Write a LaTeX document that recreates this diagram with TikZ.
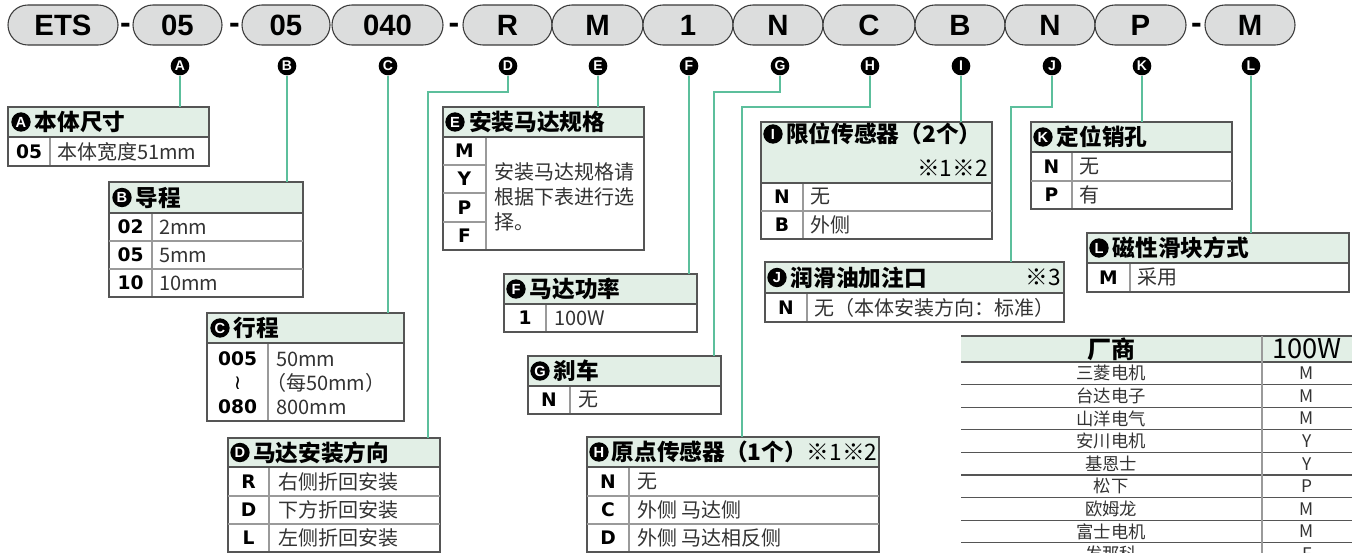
\documentclass[tikz,border=0pt]{standalone}
\usepackage{fontspec}
\setmainfont{Noto Sans CJK SC}
\newfontfamily\pillf{Liberation Sans}
\newfontfamily\codef{DejaVu Sans}
\definecolor{pillfill}{HTML}{DCDDDD}
\definecolor{pillline}{HTML}{3A3A3A}
\definecolor{hdrc}{HTML}{E2EFE6}
\definecolor{framec}{HTML}{555555}
\definecolor{rowc}{HTML}{9A9A9A}
\definecolor{leadc}{HTML}{5CBF9C}
\definecolor{txtc}{HTML}{333333}
\newcommand\tbox[6]{%
  \fill[hdrc] (#1,#2) rectangle (#3,#4);
  \draw[rowl] (#6,#4) -- (#6,#5);
  \draw[boxframe] (#1,#4) -- (#3,#4);
  \draw[boxframe] (#1,#2) rectangle (#3,#5);
}
\newcommand\nt[1]{{\mdseries #1}}
\begin{document}
\begin{tikzpicture}[x=0.75pt,y=-0.75pt,
  pill/.style={draw=pillline, fill=pillfill, line width=0.8pt, rounded corners=14.9pt,
     minimum height=30pt, inner sep=0pt, font=\pillf\bfseries\fontsize{22}{22}\selectfont},
  dashsep/.style={inner sep=0pt, anchor=base, font=\pillf\bfseries\fontsize{24}{24}\selectfont},
  lbl/.style={circle, fill=black, minimum size=14pt, inner sep=0pt, text=white,
     font=\pillf\bfseries\fontsize{10.5}{10.5}\selectfont},
  hc/.style={circle, fill=black, minimum size=14.5pt, inner sep=0pt, text=white,
     font=\pillf\bfseries\fontsize{11}{11}\selectfont},
  ht/.style={anchor=west, inner sep=0pt, font=\bfseries\fontsize{17}{19}\selectfont},
  cd/.style={inner sep=0pt, font=\codef\bfseries\fontsize{14}{14}\selectfont},
  rt/.style={anchor=west, inner sep=0pt, text=txtc, font=\fontsize{15}{16}\selectfont},
  leadline/.style={draw=leadc, line width=1pt},
  boxframe/.style={draw=framec, line width=1.2pt},
  rowl/.style={draw=rowc, line width=0.8pt},
  tabrow/.style={draw=framec, line width=0.8pt},
  th/.style={inner sep=0pt, font=\bfseries\fontsize{18}{18}\selectfont},
  thn/.style={inner sep=0pt, font=\fontsize{20.5}{20.5}\selectfont},
  td/.style={inner sep=0pt, text=txtc, font=\fontsize{13}{13}\selectfont}
]
\useasboundingbox (0,0) rectangle (1357,553);
\clip (0,0) rectangle (1357,553);
\fill[white] (0,0) rectangle (1357,553);

% ---- model code pills ----
\node[pill, minimum width=82.5pt] (p1) at (63,25) {ETS};
\node[dashsep] (d1) at (125.5,33) {-};
\node[pill, minimum width=66.75pt] (p2) at (177.5,25) {05};
\node[dashsep] (d2) at (234.5,33) {-};
\node[pill, minimum width=66pt] (p3) at (286,25) {05};
\node[pill, minimum width=83.25pt] (p4) at (387.5,25) {040};
\node[dashsep] (d3) at (454,33) {-};
\node[pill, minimum width=66.75pt] (p5) at (507.5,25) {R};
\node[pill, minimum width=68.25pt] (p6) at (597.5,25) {M};
\node[pill, minimum width=67.5pt] (p7) at (688,25) {1};
\node[pill, minimum width=67.5pt] (p8) at (778,25) {N};
\node[pill, minimum width=69pt] (p9) at (869,25) {C};
\node[pill, minimum width=67.5pt] (p10) at (960,25) {B};
\node[pill, minimum width=67.5pt] (p11) at (1050,25) {N};
\node[pill, minimum width=68.25pt] (p12) at (1140.5,25) {P};
\node[dashsep] (d4) at (1196.5,33) {-};
\node[pill, minimum width=67.5pt] (p13) at (1250,25) {M};

% ---- circled letters ----
\node[lbl] (cA) at (180,66) {A};
\node[lbl] (cB) at (287,66) {B};
\node[lbl] (cC) at (388,66) {C};
\node[lbl] (cD) at (508,66) {D};
\node[lbl] (cE) at (598,66) {E};
\node[lbl] (cF) at (689,66) {F};
\node[lbl] (cG) at (780,66) {G};
\node[lbl] (cH) at (870,66) {H};
\node[lbl] (cI) at (961,66) {I};
\node[lbl] (cJ) at (1052,66) {J};
\node[lbl] (cK) at (1142,66) {K};
\node[lbl] (cL) at (1251,66) {L};

% ---- box A ----
\tbox{8}{107}{209}{137}{166}{50}
\node[hc] (hA) at (21,122) {A};
\node[ht] (hAt) at (34.5,122) {本体尺寸};
\node[cd] (a1) at (29,151.5) {05};
\node[rt] (a1t) at (57,151.5) {本体宽度51mm};

% ---- box B ----
\tbox{109}{182}{303}{213}{297}{152}
\draw[rowl] (109,241) -- (303,241);
\draw[rowl] (109,269) -- (303,269);
\node[hc] (hB) at (122,197.5) {B};
\node[ht] (hBt) at (135.5,197.5) {导程};
\node[cd] (b1) at (130.5,227) {02};
\node[cd] (b2) at (130.5,255) {05};
\node[cd] (b3) at (130.5,283) {10};
\node[rt] (b1t) at (159,227) {2mm};
\node[rt] (b2t) at (159,255) {5mm};
\node[rt] (b3t) at (159,283) {10mm};

% ---- box C ----
\tbox{207}{313}{404}{343}{421}{268}
\node[hc] (hC) at (220,328) {C};
\node[ht] (hCt) at (233.5,328) {行程};
\node[cd] (c1) at (237.5,359) {005};
\node[inner sep=0pt, font=\codef\fontsize{15}{15}\selectfont] (c2) at (237.5,383) {≀};
\node[cd] (c3) at (237.5,407) {080};
\node[rt] (c1t) at (276,359) {50mm};
\node[rt] (c2t) at (266,383) {（每50mm）};
\node[rt] (c3t) at (276,407) {800mm};

% ---- box D ----
\tbox{228}{438}{440}{467}{552}{269}
\draw[rowl] (228,496) -- (440,496);
\draw[rowl] (228,524) -- (440,524);
\node[hc] (hD) at (240,452.5) {D};
\node[ht] (hDt) at (253,452.5) {马达安装方向};
\node[cd] (d1c) at (248.5,481.5) {R};
\node[cd] (d2c) at (248.5,510) {D};
\node[cd] (d3c) at (248.5,538) {L};
\node[rt] (d1t) at (278,481.5) {右侧折回安装};
\node[rt] (d2t) at (278,510) {下方折回安装};
\node[rt] (d3t) at (278,538) {左侧折回安装};

% ---- box E ----
\tbox{443}{107}{644}{137}{250}{486}
\draw[rowl] (443,165) -- (486,165);
\draw[rowl] (443,193) -- (486,193);
\draw[rowl] (443,222) -- (486,222);
\node[hc] (hE) at (455,122) {E};
\node[ht] (hEt) at (469,122) {安装马达规格};
\node[cd] (e1) at (464.5,151) {M};
\node[cd] (e2) at (464.5,179) {Y};
\node[cd] (e3) at (464.5,207.5) {P};
\node[cd] (e4) at (464.5,236) {F};
\node[anchor=west, inner sep=0pt, text=txtc, align=left,
      font=\fontsize{15}{18.5}\selectfont] (et) at (494,197) {安装马达规格请\\根据下表进行选\\择。};

% ---- box F ----
\tbox{504}{274}{697}{304}{332}{546}
\node[hc] (hF) at (516,289) {F};
\node[ht] (hFt) at (529.5,289) {马达功率};
\node[cd] (f1) at (525,318) {1};
\node[rt] (f1t) at (554,318) {100W};

% ---- box G ----
\tbox{528}{356}{721}{386}{414}{570}
\node[hc] (hG) at (540,371) {G};
\node[ht] (hGt) at (553.5,371) {刹车};
\node[cd] (g1) at (549,400) {N};
\node[rt] (g1t) at (578,400) {无};

% ---- box H ----
\tbox{587}{437}{879}{467}{552}{629}
\draw[rowl] (587,496) -- (879,496);
\draw[rowl] (587,524) -- (879,524);
\node[hc] (hH) at (599,452) {H};
\node[ht] (hHt) at (611.5,452) {原点传感器（1个）\nt{※1※2}};
\node[cd] (h1) at (608,481.5) {N};
\node[cd] (h2) at (608,510) {C};
\node[cd] (h3) at (608,538) {D};
\node[rt] (h1t) at (637,481.5) {无};
\node[rt] (h2t) at (637,510) {外侧 马达侧};
\node[rt] (h3t) at (637,538) {外侧 马达相反侧};

% ---- box I ----
\tbox{761}{122}{992}{183}{239}{803}
\draw[rowl] (761,211) -- (992,211);
\node[hc] (hI) at (773,134) {I};
\node[ht] (hIt) at (786,134) {限位传感器（2个）};
\node[ht, anchor=east] (hIn) at (988,168) {\nt{※1※2}};
\node[cd] (i1) at (782,197) {N};
\node[cd] (i2) at (782,225) {B};
\node[rt] (i1t) at (810,197) {无};
\node[rt] (i2t) at (810,225) {外侧};

% ---- box J ----
\tbox{765}{262}{1064}{293}{322}{807}
\node[hc] (hJ) at (777,277.5) {J};
\node[ht] (hJt) at (790.5,277.5) {润滑油加注口};
\node[ht, anchor=east] (hJn) at (1061,277.5) {\nt{※3}};
\node[cd] (j1) at (786,307.5) {N};
\node[rt] (j1t) at (814,307.5) {无（本体安装方向：标准）};

% ---- box K ----
\tbox{1031}{122}{1232}{152}{209}{1072}
\draw[rowl] (1031,181) -- (1232,181);
\node[hc] (hK) at (1043,137) {K};
\node[ht] (hKt) at (1056.5,137) {定位销孔};
\node[cd] (k1) at (1051.5,166.5) {N};
\node[cd] (k2) at (1051.5,195) {P};
\node[rt] (k1t) at (1079,166.5) {无};
\node[rt] (k2t) at (1079,195) {有};

% ---- box L ----
\tbox{1087}{233}{1349}{263}{292}{1130}
\node[hc] (hL) at (1099,248) {L};
\node[ht] (hLt) at (1112.5,248) {磁性滑块方式};
\node[cd] (l1) at (1108.5,277.5) {M};
\node[rt] (l1t) at (1137,277.5) {采用};

% ---- connectors ----
\coordinate (tA) at (180,107);
\coordinate (tB) at (287,182);
\coordinate (tC) at (388,313);
\coordinate (kD) at (428,92);
\coordinate (tD) at (428,438);
\coordinate (tE) at (598,107);
\coordinate (tF) at (689,274);
\coordinate (kG) at (714,92);
\coordinate (tG) at (714,356);
\coordinate (kH) at (742,107);
\coordinate (tH) at (742,437);
\coordinate (tI) at (961,122);
\coordinate (kJ) at (1011,107);
\coordinate (tJ) at (1011,262);
\coordinate (tK) at (1142,122);
\coordinate (tL) at (1251,233);
\draw[leadline] (cA.south) -- (tA);
\draw[leadline] (cB.south) -- (tB);
\draw[leadline] (cC.south) -- (tC);
\draw[leadline] (cD.south) |- (kD) -- (tD);
\draw[leadline] (cE.south) -- (tE);
\draw[leadline] (cF.south) -- (tF);
\draw[leadline] (cG.south) |- (kG) -- (tG);
\draw[leadline] (cH.south) |- (kH) -- (tH);
\draw[leadline] (cI.south) -- (tI);
\draw[leadline] (cJ.south) |- (kJ) -- (tJ);
\draw[leadline] (cK.south) -- (tK);
\draw[leadline] (cL.south) -- (tL);

% ---- motor table ----
\fill[hdrc] (961,336) rectangle (1352,362);
\draw[tabrow] (961,336) -- (1352,336);
\draw[boxframe] (961,362) -- (1352,362);
\foreach \i in {1,...,8} \draw[tabrow] (961,{362+22.6*\i}) -- (1352,{362+22.6*\i});
\draw[rowl] (1262,336) -- (1262,553);
\node[th] (th1) at (1111,349) {厂商};
\node[thn] (th2) at (1307,349) {100W};
\foreach \nm/\v [count=\i] in {三菱电机/M,台达电子/M,山洋电气/M,安川电机/Y,基恩士/Y,松下/P,欧姆龙/M,富士电机/M,发那科/F}{
  \node[td] (tm\i) at (1111,{362+22.6*(\i-0.5)}) {\nm};
  \node[td] (tv\i) at (1307,{362+22.6*(\i-0.5)}) {\v};
}
\end{tikzpicture}
\end{document}
